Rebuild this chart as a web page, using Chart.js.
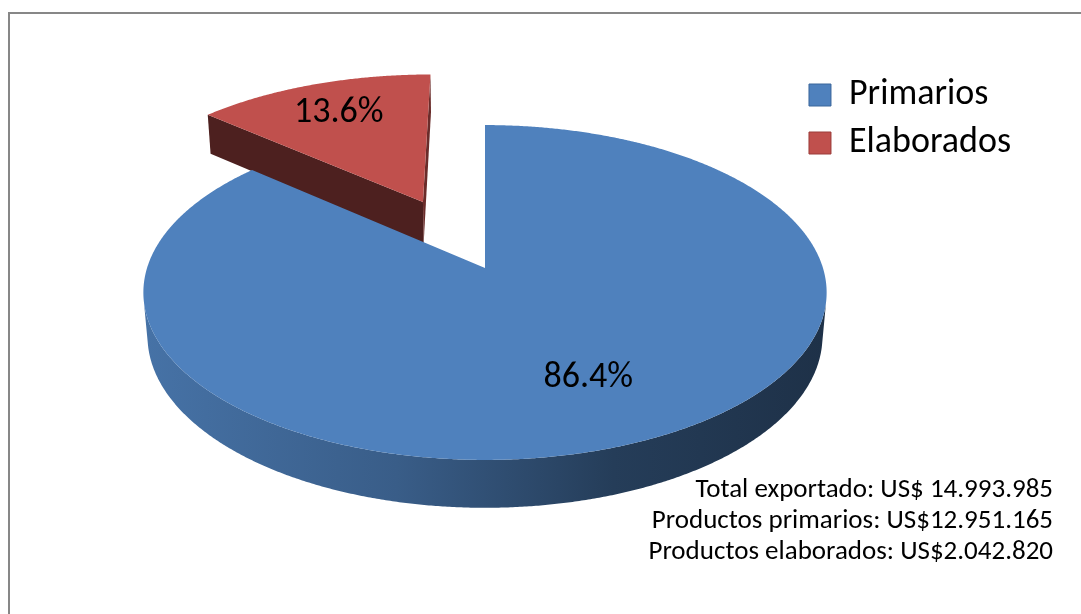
<!DOCTYPE html>
<html>
<head>
<meta charset="utf-8">
<script src="https://cdn.jsdelivr.net/npm/chart.js@4.4.1/dist/chart.umd.min.js"></script>
<style>
  html, body { margin: 0; padding: 0; background: #ffffff; }
  #wrap { width: 1081px; height: 614px; position: relative; }
  canvas { display: block; }
</style>
</head>
<body>
<div id="wrap"><canvas id="chart" width="1081" height="614"></canvas></div>
<script>
// Export composition (US$)
const categories = ['Primarios', 'Elaborados'];
const exportValues = [12951165, 2042820];
const sliceColors = ['#4f81bd', '#c0504d'];
const sliceBorders = ['#3b669b', '#9b3d3a'];
const explode = [0, 0.47];            // radial pull-out, as a fraction of the radius
const labelRadius = [0.67, 0.74];     // where each percentage sits along its slice bisector
const summaryLabels = ['Total exportado: US$ ', 'Productos primarios: US$', 'Productos elaborados: US$'];

const FONT = 'Carlito, Lato, "Open Sans", sans-serif';

// Perspective camera for the tilted disc
const VIEW = {
  cx: 485, cy: 268,        // screen position of the disc centre
  focal: 2021, dist: 5.98, // focal length (px) and camera distance (radii)
  tilt: 29 * Math.PI / 180,
  depth: 0.148             // disc thickness (radii)
};

function fmtThousands(n) {
  return String(Math.round(n)).replace(/\B(?=(\d{3})+(?!\d))/g, '.');
}
function shade(hex, f) {
  const n = parseInt(hex.slice(1), 16);
  const r = Math.round(((n >> 16) & 255) * f), g = Math.round(((n >> 8) & 255) * f), b = Math.round((n & 255) * f);
  return `rgb(${r},${g},${b})`;
}

const pie3d = {
  id: 'pie3d',
  beforeDatasetsDraw(chart) {
    const ctx = chart.ctx;
    const meta = chart.getDatasetMeta(0);
    const ds = chart.data.datasets[0];
    const total = ds.data.reduce((a, b) => a + b, 0);
    const cs = Math.cos(VIEW.tilt), sn = Math.sin(VIEW.tilt);
    const D = VIEW.dist, H = VIEW.depth;
    const proj = (x, y, z) => {
      const w = D + z * cs - y * sn;
      return [VIEW.cx + VIEW.focal * x / w, VIEW.cy - VIEW.focal * (z * sn + y * cs) / w];
    };

    const slices = meta.data.map((arc, i) => {
      const a0 = arc.startAngle, a1 = arc.endAngle, mid = (a0 + a1) / 2;
      const e = explode[i] || 0;
      return { i, a0, a1, mid, ox: e * Math.cos(mid), oz: -e * Math.sin(mid) };
    });
    const rim = (s, a, y) => proj(s.ox + Math.cos(a), y, s.oz - Math.sin(a));
    // paint back-most slices first
    slices.sort((s, t) => (t.oz - 0.5 * Math.sin(t.mid)) - (s.oz - 0.5 * Math.sin(s.mid)));

    ctx.save();
    for (const s of slices) {
      const base = ds.backgroundColor[s.i];
      const N = Math.max(16, Math.ceil((s.a1 - s.a0) / 0.006));

      // outer wall: only the part that faces the camera
      const runs = [];
      let run = null;
      for (let k = 0; k <= N; k++) {
        const a = s.a0 + (s.a1 - s.a0) * k / N;
        const vis = -s.ox * Math.cos(a) + (D * cs + s.oz) * Math.sin(a) - 1 > 0;
        if (vis) { if (!run) { run = []; runs.push(run); } run.push(a); }
        else run = null;
      }
      const xl = proj(s.ox - 1, 0, s.oz)[0], xr = proj(s.ox + 1, 0, s.oz)[0];
      for (const r of runs) {
        if (r.length < 2) continue;
        const g = ctx.createLinearGradient(xl, 0, xr, 0);
        g.addColorStop(0, shade(base, 0.88));
        g.addColorStop(0.37, shade(base, 0.72));
        g.addColorStop(0.69, shade(base, 0.47));
        g.addColorStop(1, shade(base, 0.38));
        ctx.beginPath();
        r.forEach((a, k) => { const p = rim(s, a, 0); k ? ctx.lineTo(p[0], p[1]) : ctx.moveTo(p[0], p[1]); });
        for (let k = r.length - 1; k >= 0; k--) { const p = rim(s, r[k], -H); ctx.lineTo(p[0], p[1]); }
        ctx.closePath();
        ctx.fillStyle = g;
        ctx.fill();
      }

      // radial cut faces
      const faces = [
        { a: s.a0, n: [Math.sin(s.a0), Math.cos(s.a0)], f: 0.4 },
        { a: s.a1, n: [-Math.sin(s.a1), -Math.cos(s.a1)], f: 0.55 }
      ];
      if (s.a1 - s.a0 < 2 * Math.PI - 1e-6) {
        for (const fc of faces) {
          const dot = fc.n[0] * (-s.ox) + fc.n[1] * (-D * cs - s.oz);
          if (dot <= 0) continue;
          const c0 = proj(s.ox, 0, s.oz), c1 = proj(s.ox, -H, s.oz);
          const r0 = rim(s, fc.a, 0), r1 = rim(s, fc.a, -H);
          ctx.beginPath();
          ctx.moveTo(c0[0], c0[1]); ctx.lineTo(r0[0], r0[1]);
          ctx.lineTo(r1[0], r1[1]); ctx.lineTo(c1[0], c1[1]);
          ctx.closePath();
          ctx.fillStyle = shade(base, fc.f);
          ctx.fill();
        }
      }

      // top face
      ctx.beginPath();
      const c = proj(s.ox, 0, s.oz);
      ctx.moveTo(c[0], c[1]);
      for (let k = 0; k <= N; k++) {
        const p = rim(s, s.a0 + (s.a1 - s.a0) * k / N, 0);
        ctx.lineTo(p[0], p[1]);
      }
      ctx.closePath();
      ctx.fillStyle = base;
      ctx.fill();
    }

    // percentage labels
    ctx.fillStyle = '#000';
    ctx.font = `36px ${FONT}`;
    ctx.textAlign = 'center';
    ctx.textBaseline = 'middle';
    for (const s of slices) {
      const r = labelRadius[s.i];
      const p = proj(s.ox + r * Math.cos(s.mid), 0, s.oz - r * Math.sin(s.mid));
      ctx.fillText((ds.data[s.i] / total * 100).toFixed(1) + '%', p[0], p[1]);
    }
    ctx.restore();
    return false;
  },
  afterDraw(chart) {
    const ctx = chart.ctx;
    const ds = chart.data.datasets[0];
    const total = ds.data.reduce((a, b) => a + b, 0);
    ctx.save();
    // chart frame
    ctx.strokeStyle = '#878787';
    ctx.lineWidth = 2;
    ctx.strokeRect(9, 13, 1200, 700);
    // totals
    ctx.fillStyle = '#000';
    ctx.font = `27px ${FONT}`;
    ctx.textAlign = 'right';
    ctx.textBaseline = 'alphabetic';
    const lines = [
      summaryLabels[0] + fmtThousands(total),
      summaryLabels[1] + fmtThousands(ds.data[0]),
      summaryLabels[2] + fmtThousands(ds.data[1])
    ];
    lines.forEach((t, k) => ctx.fillText(t, 1053, 497 + k * 31));
    ctx.restore();
  }
};

new Chart(document.getElementById('chart'), {
  type: 'pie',
  data: {
    labels: categories,
    datasets: [{
      data: exportValues,
      backgroundColor: sliceColors,
      borderColor: sliceBorders,
      borderWidth: 1
    }]
  },
  options: {
    responsive: false,
    animation: false,
    devicePixelRatio: 1,
    layout: { padding: { top: 65, right: 60, bottom: 0, left: 0 } },
    plugins: {
      tooltip: { enabled: false },
      legend: {
        position: 'right',
        align: 'start',
        labels: {
          color: '#000',
          font: { family: FONT, size: 36 },
          boxWidth: 22,
          boxHeight: 22,
          padding: 12
        }
      }
    }
  },
  plugins: [pie3d]
});
</script>
</body>
</html>
